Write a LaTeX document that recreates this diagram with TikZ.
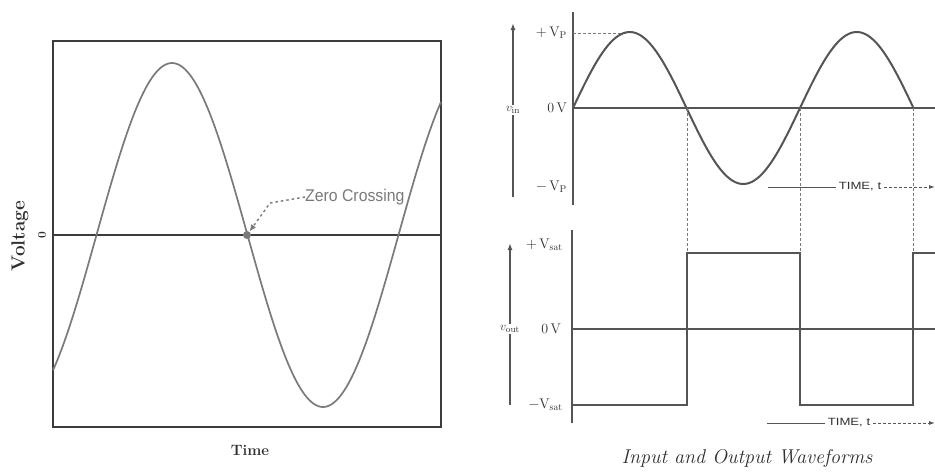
\documentclass[tikz,border=0pt]{standalone}
\usepackage{fontspec}
\usetikzlibrary{arrows.meta}
\newfontfamily\lsans{Liberation Sans}
\definecolor{boxc}{HTML}{3C3C3C}
\definecolor{wavec}{HTML}{7A7A7A}
\definecolor{rline}{HTML}{555555}
\definecolor{txtc}{HTML}{303030}
\tikzset{
  boxline/.style={draw=boxc, line width=2.4pt},
  zeroline/.style={draw=boxc, line width=2pt},
  lwave/.style={draw=wavec, line width=1.7pt},
  rwave/.style={draw=rline, line width=2pt},
  raxis/.style={draw=rline, line width=1.8pt},
  rzero/.style={draw=rline, line width=1.3pt},
  rdash/.style={draw=wavec, line width=1pt, dash pattern=on 3pt off 2pt},
  sqwave/.style={draw=rline, line width=2.2pt},
  varrow/.style={draw=rline, line width=1.5pt, -{Latex[length=7pt,width=5pt]}},
  lvl/.style={anchor=east, text=txtc, font=\fontsize{14}{14}\selectfont, inner sep=1pt},
  vname/.style={fill=white, text=txtc, font=\fontsize{13}{13}\selectfont, inner sep=1pt},
  timelbl/.style={text=txtc, font=\lsans\fontsize{10.5}{10.5}\selectfont, xscale=1.25, inner sep=2pt},
  timeline/.style={draw=rline, line width=1pt},
  timearrow/.style={draw=rline, line width=1pt, dash pattern=on 3pt off 2pt, -{Latex[length=6pt,width=4pt]}}
}
\begin{document}
\begin{tikzpicture}[x=1pt,y=-1pt]
\useasboundingbox (0,0) rectangle (935,472);
\fill[white] (0,0) rectangle (935,472);

% ---------- left panel ----------
\draw[boxline] (53,41) rectangle (441,427);
\draw[zeroline] (53,235) -- (441,235);
\draw[lwave] plot[domain=53:441, samples=160, smooth] (\x, {235-172*sin((\x-96.5)/302*360)});
\node[circle, fill=wavec, inner sep=0pt, minimum size=8pt] (zdot) at (247,235) {};
\node[anchor=west, text=wavec, font=\lsans\fontsize{17}{17}\selectfont, xscale=0.93, inner sep=0pt] (zc) at (305,197) {Zero Crossing};
\coordinate (zbend) at (270,203);
\draw[draw=wavec, line width=1.4pt, dash pattern=on 2.5pt off 3pt, -{Latex[length=7pt,width=6pt]}] (zc.west) -- (zbend) -- (zdot);
\node[rotate=90, text=txtc, font=\bfseries\fontsize{19}{19}\selectfont] (vlab) at (20,236) {Voltage};
\node[rotate=90, text=txtc, font=\bfseries\fontsize{12}{12}\selectfont] (zerolab) at (42,235) {0};
\node[text=txtc, font=\bfseries\fontsize{15}{15}\selectfont] (tlab) at (250,450) {Time};

% ---------- right upper panel ----------
\draw[raxis] (573,12) -- (573,205);
\draw[varrow] (513,197) -- (513,23);
\node[vname] (vin) at (513,110) {$v_{\mathrm{in}}$};
\node[lvl] (vp) at (568,33) {$+\,\mathrm{V_P}$};
\node[lvl] (v0a) at (568,108) {0\,V};
\node[lvl] (vm) at (568,187) {$-\,\mathrm{V_P}$};
\draw[rdash] (573,33) -- (627,33);
\draw[rzero] (573,108) -- (935,108);
\draw[rwave] plot[domain=573:913, samples=160, smooth] (\x, {108-76*sin((\x-573)/227*360)});
\draw[rdash] (687,108) -- (687,253);
\draw[rdash] (800,108) -- (800,253);
\draw[rdash] (913,108) -- (913,253);
\node[timelbl] (t1) at (860,187) {TIME, t};
\coordinate (t1s) at (768,187);
\coordinate (t1e) at (935,187);
\draw[timeline] (t1s) -- (t1.west);
\draw[timearrow] (t1.east) -- (t1e);

% ---------- right lower panel ----------
\draw[raxis] (572,230) -- (572,423);
\draw[varrow] (510,405) -- (510,243);
\node[vname] (vout) at (510,329) {$v_{\mathrm{out}}$};
\node[lvl] (vs) at (564,245) {$+\,\mathrm{V_{sat}}$};
\node[lvl] (v0b) at (562,329) {0\,V};
\node[lvl] (vsm) at (564,405) {$-\mathrm{V_{sat}}$};
\draw[rzero] (572,329) -- (935,329);
\draw[sqwave] (572,405) -- (687,405) -- (687,253) -- (800,253) -- (800,405) -- (913,405) -- (913,253) -- (935,253);
\node[timelbl] (t2) at (849,423) {TIME, t};
\coordinate (t2s) at (767,423);
\coordinate (t2e) at (935,423);
\draw[timeline] (t2s) -- (t2.west);
\draw[timearrow] (t2.east) -- (t2e);

\node[text=txtc, font=\itshape\fontsize{20}{20}\selectfont] (cap) at (747,458) {Input and Output Waveforms};
\end{tikzpicture}
\end{document}
